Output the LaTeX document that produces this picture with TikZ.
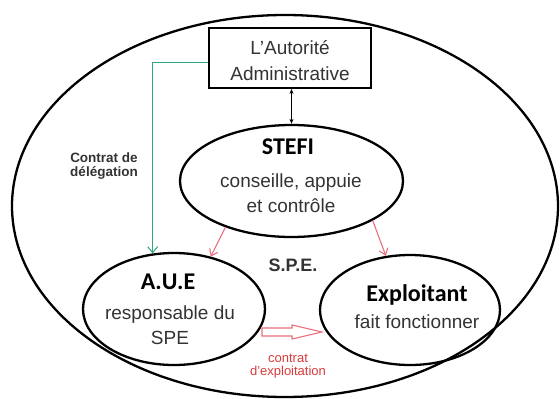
\documentclass[tikz,border=0pt]{standalone}
\usepackage{fontspec}
\setmainfont{Liberation Sans}
\newfontfamily\titlefont{Carlito}
\usetikzlibrary{arrows.meta,shapes.geometric}
\definecolor{txt}{HTML}{333333}
\definecolor{gline}{HTML}{2FA878}
\definecolor{rline}{HTML}{E8707F}
\definecolor{rtext}{HTML}{D83A3A}
\tikzset{
  ell/.style={draw=black, line width=2.3pt, ellipse, inner sep=0pt},
  lbl/.style={inner sep=0pt, text=txt, font=\fontsize{19}{19}\selectfont},
  ttl/.style={inner sep=0pt, text=black, font=\titlefont\bfseries\fontsize{24}{24}\selectfont},
  redarr/.style={draw=rline, line width=1.1pt, -{Straight Barb[length=6pt,width=9pt]}},
}
\begin{document}
\begin{tikzpicture}[x=1pt,y=-1pt]
\useasboundingbox (0,0) rectangle (560,399);
% outer ellipse
\node[ell, minimum width=546pt, minimum height=382pt] (outer) at (285,206) {};
% box
\node[draw=black, line width=1.8pt, minimum width=162pt, minimum height=60pt, inner sep=0pt] (box) at (290,58) {};
\node[lbl] (t1) at (290,48) {L'Autorité};
\node[lbl] (t2) at (290,74) {Administrative};
% ellipses
\node[ell, minimum width=223pt, minimum height=112pt] (stefi) at (291.5,181) {};
\node[ell, minimum width=182pt, minimum height=112pt] (aue) at (174,309) {};
\node[ell, minimum width=180pt, minimum height=110pt] (expl) at (410,310) {};
% texts
\node[ttl] (st) at (288,147) {STEFI};
\node[lbl] (st1) at (291,183) {conseille, appuie};
\node[lbl] (st2) at (291,206) {et contrôle};
\node[ttl] (au) at (168,282) {A.U.E};
\node[lbl] (au1) at (170,315) {responsable du};
\node[lbl] (au2) at (170,338) {SPE};
\node[ttl] (ex) at (417,295) {Exploitant};
\node[lbl] (ex1) at (417,322) {fait fonctionner};
\node[inner sep=0pt, text=txt, font=\bfseries\fontsize{18}{18}\selectfont] (spe) at (293,265) {S.P.E.};
\node[inner sep=0pt, text=txt, font=\bfseries\fontsize{13.5}{13.5}\selectfont] (cd1) at (104,158) {Contrat de};
\node[inner sep=0pt, text=txt, font=\bfseries\fontsize{13.5}{13.5}\selectfont] (cd2) at (104,173) {délégation};
\node[inner sep=0pt, text=rtext, font=\fontsize{13}{13}\selectfont] (ce1) at (288,358) {contrat};
\node[inner sep=0pt, text=rtext, font=\fontsize{13}{13}\selectfont] (ce2) at (288,372) {d'exploitation};
% double arrow
\draw[line width=1.2pt, {Stealth[length=5pt,width=4pt]}-{Stealth[length=5pt,width=4pt]}] (stefi.north |- box.south) -- (stefi.north);
% green line
\coordinate (gs) at ([yshift=-4pt]box.west);
\draw[draw=gline, line width=1pt, -{Straight Barb[length=6pt,width=10pt]}] (gs) -| (aue.111);
% red arrows
\draw[redarr] (stefi.215) -- (aue.55);
\draw[redarr] (stefi.334) -- (expl.114);
% hollow arrow
\coordinate (ha) at (262,332);
\coordinate (hb) at (322,332);
\draw[draw=rline, line width=1.1pt, line join=miter]
  (ha) ++(0,4) -- ++(30,0) -- ++(0,3) -- (hb) -- ++(-30,-7) -- ++(0,3) -- ++(-30,0) -- cycle;
\end{tikzpicture}
\end{document}
